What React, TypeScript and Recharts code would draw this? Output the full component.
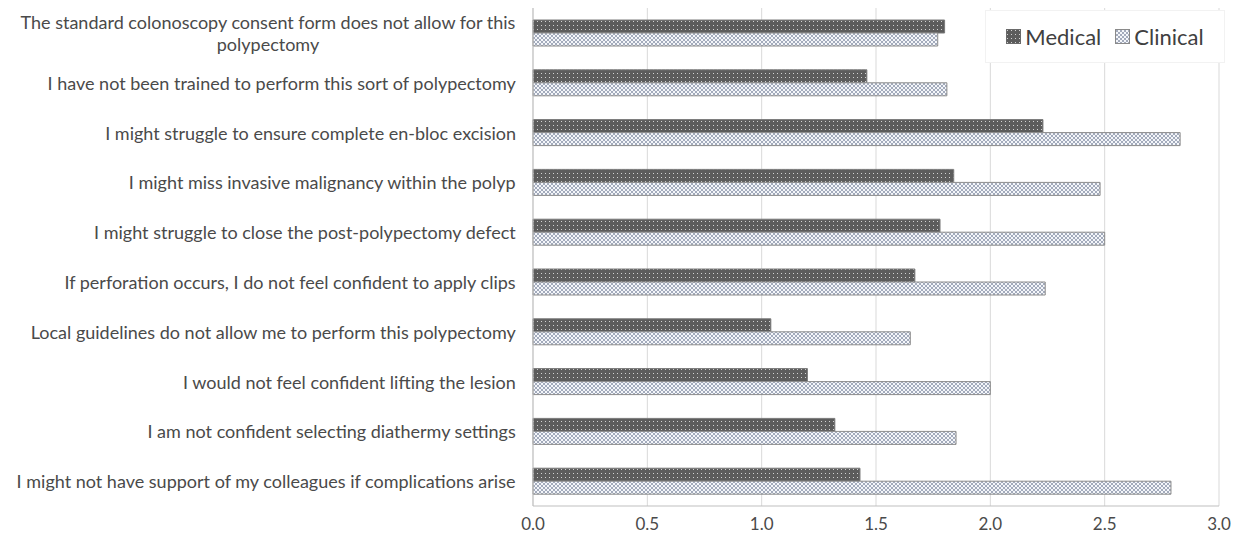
import { Bar, BarChart, CartesianGrid, XAxis, YAxis } from "recharts";

const categories = [
  "The standard colonoscopy consent form does not allow for this\npolypectomy",
  "I have not been trained to perform this sort of polypectomy",
  "I might struggle to ensure complete en-bloc excision",
  "I might miss invasive malignancy within the polyp",
  "I might struggle to close the post-polypectomy defect",
  "If perforation occurs, I do not feel confident to apply clips",
  "Local guidelines do not allow me to perform this polypectomy",
  "I would not feel confident lifting the lesion",
  "I am not confident selecting diathermy settings",
  "I might not have support of my colleagues if complications arise",
];
const medical = [1.8, 1.46, 2.23, 1.84, 1.78, 1.67, 1.04, 1.2, 1.32, 1.43];
const clinical = [1.77, 1.81, 2.83, 2.48, 2.5, 2.24, 1.65, 2.0, 1.85, 2.79];
const xTicks = [0, 0.5, 1, 1.5, 2, 2.5, 3];

const data = categories.map((name, i) => ({
  name,
  medical: medical[i],
  clinical: clinical[i],
}));

const FONT = "Lato, 'Open Sans', sans-serif";
const TEXT = "#4a4a4a";
const LABEL_SIZE = 18;

let ctx: CanvasRenderingContext2D | null = null;
function measure(text: string) {
  if (!ctx) ctx = document.createElement("canvas").getContext("2d");
  if (!ctx) return text.length * 8;
  ctx.font = `${LABEL_SIZE}px Lato`;
  return ctx.measureText(text).width;
}

function CategoryTick({ x, y, payload }: any) {
  const lines = String(payload.value).split("\n");
  const lh = 22;
  const y0 = y - ((lines.length - 1) * lh) / 2;
  const widest = Math.max(...lines.map(measure));
  return (
    <g>
      {lines.map((line, i) => (
        <text
          key={i}
          x={x - widest / 2}
          y={y0 + i * lh}
          textAnchor="middle"
          dominantBaseline="central"
          fill={TEXT}
          fontSize={LABEL_SIZE}
          fontFamily={FONT}
        >
          {line}
        </text>
      ))}
    </g>
  );
}

function Patterns() {
  return (
    <defs>
      <pattern id="patMedical" width="4" height="4" patternUnits="userSpaceOnUse">
        <rect width="4" height="4" fill="#5c5c5c" />
        <rect x="1" y="1" width="1" height="1" fill="#d2d2d2" />
      </pattern>
      <pattern id="patClinical" width="4" height="4" patternUnits="userSpaceOnUse">
        <rect width="4" height="4" fill="#f4f6fa" />
        <path d="M0,0 L4,4 M4,0 L0,4" stroke="#9aa3b6" strokeWidth="0.9" />
      </pattern>
    </defs>
  );
}

function LegendBox() {
  const items = [
    { label: "Medical", fill: "url(#legMedical)", stroke: "#6a6a6a" },
    { label: "Clinical", fill: "url(#legClinical)", stroke: "#8a8a8a" },
  ];
  return (
    <div
      style={{
        position: "absolute",
        left: 985,
        top: 10,
        width: 240,
        height: 53,
        background: "#fff",
        border: "1px solid #f2f2f2",
        boxSizing: "border-box",
        display: "flex",
        alignItems: "center",
        justifyContent: "center",
        gap: 14,
        fontFamily: FONT,
        fontSize: 22,
        color: "#404040",
      }}
    >
      <svg width="0" height="0" style={{ position: "absolute" }}>
        <defs>
          <pattern id="legMedical" width="4" height="4" patternUnits="userSpaceOnUse">
            <rect width="4" height="4" fill="#5c5c5c" />
            <rect x="1" y="1" width="1" height="1" fill="#d2d2d2" />
          </pattern>
          <pattern id="legClinical" width="4" height="4" patternUnits="userSpaceOnUse">
            <rect width="4" height="4" fill="#f4f6fa" />
            <path d="M0,0 L4,4 M4,0 L0,4" stroke="#9aa3b6" strokeWidth="0.9" />
          </pattern>
        </defs>
      </svg>
      {items.map((it) => (
        <div key={it.label} style={{ display: "flex", alignItems: "center", gap: 4 }}>
          <svg width="15" height="15">
            <rect x="0.5" y="0.5" width="14" height="14" fill={it.fill} stroke={it.stroke} />
          </svg>
          <span>{it.label}</span>
        </div>
      ))}
    </div>
  );
}

export default function App() {
  return (
    <div style={{ position: "absolute", left: 0, top: 0, width: 1241, height: 542, background: "#fff" }}>
      <BarChart
        width={1241}
        height={542}
        data={data}
        layout="vertical"
        margin={{ top: 8, right: 22, bottom: 6, left: 0 }}
        barGap={0}
        barSize={13}
      >
        <Patterns />
        <CartesianGrid horizontal={false} stroke="#d9d9d9" />
        <XAxis
          type="number"
          domain={[0, 3]}
          ticks={xTicks}
          tickFormatter={(v: number) => v.toFixed(1)}
          tick={{ fontSize: 17, fill: TEXT, fontFamily: FONT }}
          axisLine={{ stroke: "#bfbfbf" }}
          tickLine={false}
          tickMargin={6}
        />
        <YAxis
          type="category"
          dataKey="name"
          width={533}
          tick={<CategoryTick />}
          axisLine={{ stroke: "#bfbfbf" }}
          tickLine={false}
          tickMargin={11}
          interval={0}
        />
        <Bar dataKey="medical" fill="url(#patMedical)" stroke="#7a7a7a" isAnimationActive={false} />
        <Bar dataKey="clinical" fill="url(#patClinical)" stroke="#8c8c8c" isAnimationActive={false} />
      </BarChart>
      <LegendBox />
    </div>
  );
}
